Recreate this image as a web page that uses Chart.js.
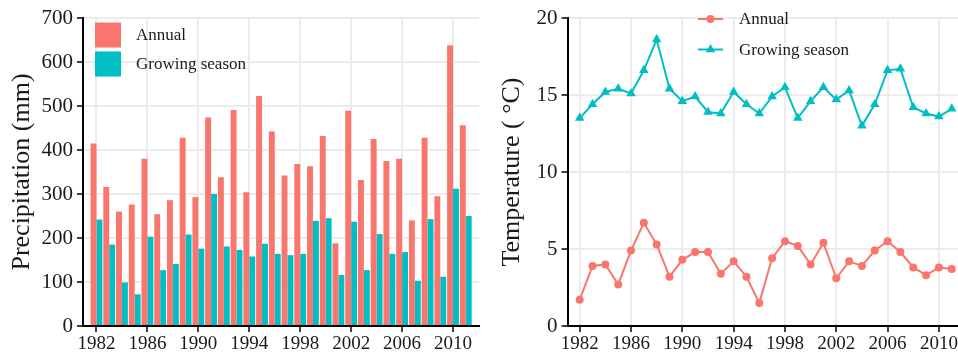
<!DOCTYPE html>
<html>
<head>
<meta charset="utf-8">
<script src="https://cdn.jsdelivr.net/npm/chart.js@4.4.1/dist/chart.umd.min.js"></script>
<style>
  html, body { margin: 0; padding: 0; background: #fff; overflow: hidden; }
  #wrap { position: relative; width: 958px; height: 354px; overflow: hidden; }
  .panel { position: absolute; top: 0; height: 354px; }
  #precip-box { left: 0; width: 483px; }
  #temp-box { left: 483px; width: 500px; }
</style>
</head>
<body>
<div id="wrap">
  <div class="panel" id="precip-box"><canvas id="precipChart" width="483" height="354"></canvas></div>
  <div class="panel" id="temp-box"><canvas id="tempChart" width="500" height="354"></canvas></div>
</div>
<script>
const years = [1982, 1983, 1984, 1985, 1986, 1987, 1988, 1989, 1990, 1991,
  1992, 1993, 1994, 1995, 1996, 1997, 1998, 1999, 2000, 2001,
  2002, 2003, 2004, 2005, 2006, 2007, 2008, 2009, 2010, 2011];
const yearTicks = [1982, 1986, 1990, 1994, 1998, 2002, 2006, 2010];

const precipAnnual = [415, 316, 260, 276, 380, 254, 286, 428, 293, 474,
  338, 491, 304, 523, 442, 342, 368, 363, 432, 188,
  489, 332, 425, 375, 380, 240, 428, 295, 638, 456];
const precipGrowing = [242, 185, 99, 72, 203, 127, 141, 208, 176, 300,
  181, 173, 158, 187, 164, 161, 164, 239, 245, 116,
  237, 127, 209, 164, 168, 103, 243, 112, 312, 250];

const tempAnnual = [1.7, 3.9, 4.0, 2.7, 4.9, 6.7, 5.3, 3.2, 4.3, 4.8,
  4.8, 3.4, 4.2, 3.2, 1.5, 4.4, 5.5, 5.2, 4.0, 5.4,
  3.1, 4.2, 3.9, 4.9, 5.5, 4.8, 3.8, 3.3, 3.8, 3.7];
const tempGrowing = [13.5, 14.4, 15.2, 15.4, 15.1, 16.6, 18.6, 15.4, 14.6, 14.9,
  13.9, 13.8, 15.2, 14.4, 13.8, 14.9, 15.5, 13.5, 14.6, 15.5,
  14.7, 15.3, 13.0, 14.4, 16.6, 16.7, 14.2, 13.8, 13.6, 14.1];

const RED = '#F8766D';
const TEAL = '#00BFC4';
const SERIF = '"Liberation Serif", "Times New Roman", serif';

// legend drawn inside the plot, like the ggplot inset legend
const insetLegend = {
  id: 'insetLegend',
  afterDraw(chart, args, opts) {
    const ctx = chart.ctx;
    ctx.save();
    ctx.font = '17px ' + SERIF;
    ctx.textBaseline = 'middle';
    chart.data.datasets.forEach((ds, i) => {
      const y = opts.y + i * opts.rowGap;
      if (opts.kind === 'box') {
        ctx.fillStyle = ds.backgroundColor;
        ctx.fillRect(opts.x, y - 12.5, 26, 25);
      } else {
        ctx.strokeStyle = ds.borderColor;
        ctx.lineWidth = 2;
        ctx.beginPath();
        ctx.moveTo(opts.x, y);
        ctx.lineTo(opts.x + 25, y);
        ctx.stroke();
        ctx.fillStyle = ds.borderColor;
        Chart.helpers.drawPoint(ctx, { pointStyle: ds.pointStyle, radius: ds.pointRadius, borderWidth: 0, rotation: 0 }, opts.x + 12.5, y);
      }
      ctx.fillStyle = '#1a1a1a';
      ctx.fillText(ds.label, opts.textX, y + 1);
    });
    ctx.restore();
  },
};

function xAxis(min, max) {
  return {
    type: 'linear',
    min,
    max,
    offset: false,
    afterBuildTicks: (scale) => {
      scale.ticks = yearTicks.map((v) => ({ value: v }));
    },
    afterFit: (scale) => { scale.height = 28; },
    ticks: {
      color: '#1a1a1a',
      font: { family: SERIF, size: 19 },
      padding: 1,
      maxRotation: 0,
      autoSkip: false,
      callback: (v) => String(v),
    },
    grid: { color: '#ececec', lineWidth: 2, tickColor: '#000', tickLength: 6, tickWidth: 1.5, offset: false },
    border: { color: '#000', width: 2 },
  };
}

function yAxis(max, step, title, width, titlePad) {
  return {
    min: 0,
    max,
    afterFit: (scale) => { scale.width = width; },
    ticks: { stepSize: step, color: '#1a1a1a', font: { family: SERIF, size: 21 }, padding: 4 },
    grid: { color: '#ececec', lineWidth: 2, tickColor: '#000', tickLength: 6, tickWidth: 1.5 },
    border: { color: '#000', width: 2 },
    title: {
      display: true,
      text: title,
      color: '#1a1a1a',
      font: { family: SERIF, size: 26, lineHeight: 1.2 },
      padding: { top: titlePad, bottom: 0 },
    },
  };
}

new Chart(document.getElementById('precipChart'), {
  type: 'bar',
  data: {
    datasets: [
      { label: 'Annual', data: years.map((y, i) => ({ x: y, y: precipAnnual[i] })), backgroundColor: RED, borderWidth: 0 },
      { label: 'Growing season', data: years.map((y, i) => ({ x: y, y: precipGrowing[i] })), backgroundColor: TEAL, borderWidth: 0 },
    ],
  },
  options: {
    responsive: false,
    animation: false,
    devicePixelRatio: 1,
    categoryPercentage: 0.93,
    barPercentage: 1.0,
    layout: { padding: { top: 18, right: 4, bottom: 0, left: 0 } },
    scales: {
      x: xAxis(1980.94, 2012.04),
      y: yAxis(700, 100, 'Precipitation (mm)', 83, 7),
    },
    plugins: {
      legend: { display: false },
      tooltip: { enabled: false },
      insetLegend: { kind: 'box', x: 95, y: 35, rowGap: 29, textX: 136 },
    },
  },
  plugins: [insetLegend],
});

new Chart(document.getElementById('tempChart'), {
  type: 'line',
  data: {
    datasets: [
      {
        label: 'Annual',
        data: years.map((y, i) => ({ x: y, y: tempAnnual[i] })),
        borderColor: RED, backgroundColor: RED, borderWidth: 2,
        pointStyle: 'circle', pointRadius: 4, pointBorderWidth: 0, tension: 0,
      },
      {
        label: 'Growing season',
        data: years.map((y, i) => ({ x: y, y: tempGrowing[i] })),
        borderColor: TEAL, backgroundColor: TEAL, borderWidth: 2,
        pointStyle: 'triangle', pointRadius: 5.5, pointBorderWidth: 0, tension: 0,
      },
    ],
  },
  options: {
    responsive: false,
    animation: false,
    devicePixelRatio: 1,
    layout: { padding: { top: 18, right: 25, bottom: 0, left: 0 } },
    scales: {
      x: xAxis(1981.05, 2011.49),
      y: yAxis(20, 5, 'Temperature ( \u00B0C)', 84.5, 14),
    },
    plugins: {
      legend: { display: false },
      tooltip: { enabled: false },
      insetLegend: { kind: 'line', x: 215, y: 19, rowGap: 30.5, textX: 256 },
    },
  },
  plugins: [insetLegend],
});
</script>
</body>
</html>
